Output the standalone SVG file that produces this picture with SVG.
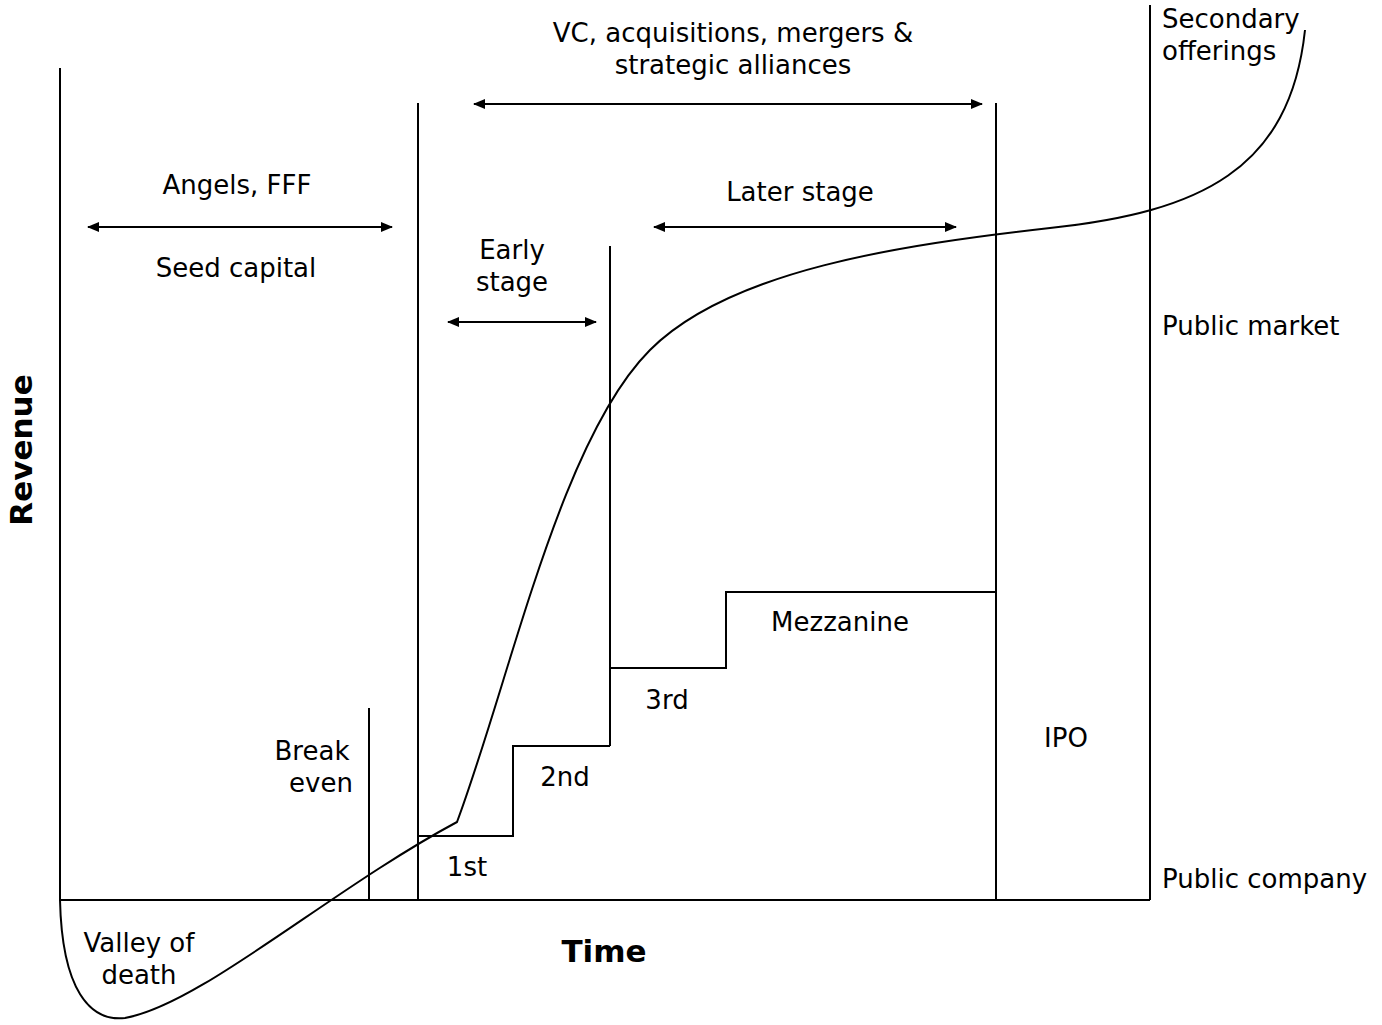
<svg xmlns="http://www.w3.org/2000/svg" width="1382" height="1025" viewBox="0 0 1382 1025">
<style>
text{font-family:"DejaVu Sans",Verdana,sans-serif;font-size:26px;fill:#000}
.l{stroke:#000;stroke-width:2;fill:none}
.b{font-weight:bold;font-size:31px}
</style>
<defs><marker id="a" markerWidth="12" markerHeight="10" refX="11" refY="5" orient="auto-start-reverse" markerUnits="userSpaceOnUse"><path d="M0,0 L12,5 L0,10 Z" fill="#000"/></marker></defs>
<rect width="1382" height="1025" fill="#fff"/>
<g id="axes" class="l">
<path d="M60,68 V900 H1150"/>
<path d="M418,103 V900 M996,103 V900 M1150,5 V900 M369,708 V900 M610,246 V746"/>
<path d="M418,836 H513 V746 H610 M610,668 H726 V592 H996"/>
</g>
<g id="connectors" class="l">
<line x1="88" y1="227" x2="392" y2="227" marker-start="url(#a)" marker-end="url(#a)"/>
<line x1="474" y1="104" x2="982" y2="104" marker-start="url(#a)" marker-end="url(#a)"/>
<line x1="448" y1="322" x2="596" y2="322" marker-start="url(#a)" marker-end="url(#a)"/>
<line x1="654" y1="227" x2="956" y2="227" marker-start="url(#a)" marker-end="url(#a)"/>
</g>
<path id="curve" class="l" d="M60,900 C62,990 90,1022 125,1018 C200,1005 330,890 457,822 C510,680 560,440 650,350 C730,270 900,245 1050,228 C1200,212 1290,170 1305,30"/>
<g id="labels">
<text x="604" y="962" class="b" text-anchor="middle">Time</text>
<text class="b" transform="translate(32 450) rotate(-90)" text-anchor="middle">Revenue</text>
<text x="733" y="42" text-anchor="middle">VC, acquisitions, mergers &amp;</text>
<text x="733" y="74" text-anchor="middle">strategic alliances</text>
<text x="237" y="194" text-anchor="middle">Angels, FFF</text>
<text x="236" y="277" text-anchor="middle">Seed capital</text>
<text x="512" y="259" text-anchor="middle">Early</text>
<text x="512" y="291" text-anchor="middle">stage</text>
<text x="800" y="201" text-anchor="middle">Later stage</text>
<text x="1162" y="28">Secondary</text>
<text x="1162" y="60">offerings</text>
<text x="1162" y="335">Public market</text>
<text x="1162" y="888">Public company</text>
<text x="840" y="631" text-anchor="middle">Mezzanine</text>
<text x="667" y="709" text-anchor="middle">3rd</text>
<text x="565" y="786" text-anchor="middle">2nd</text>
<text x="467" y="876" text-anchor="middle">1st</text>
<text x="1066" y="747" text-anchor="middle">IPO</text>
<text x="312" y="760" text-anchor="middle">Break</text>
<text x="321" y="792" text-anchor="middle">even</text>
<text x="139" y="952" text-anchor="middle">Valley of</text>
<text x="139" y="984" text-anchor="middle">death</text>
</g>
</svg>
